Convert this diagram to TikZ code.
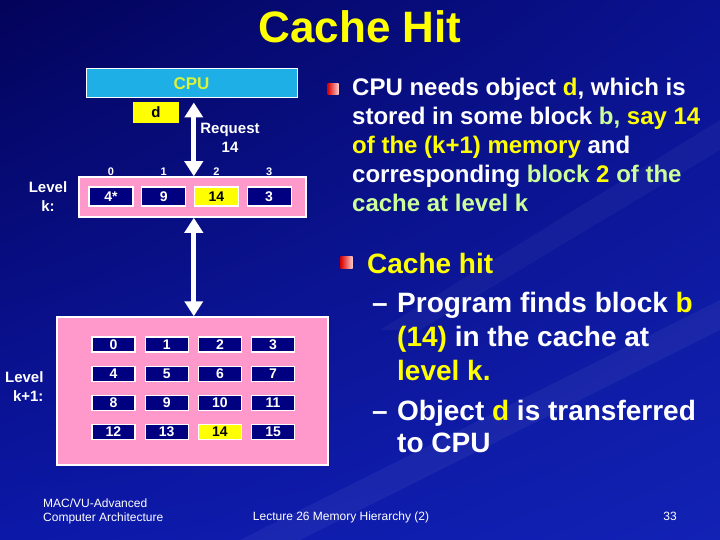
\documentclass[tikz,border=0pt]{standalone}
\usepackage{fontspec}
\setmainfont{Liberation Sans}
\usetikzlibrary{arrows.meta,positioning,calc,shadings}
\definecolor{chdark}{HTML}{03035A}
\definecolor{chbg}{HTML}{0A1290}
\definecolor{chmid}{HTML}{0C18A8}
\definecolor{chlow}{HTML}{1222B4}
\definecolor{chpink}{HTML}{FF99CC}
\definecolor{chnavy}{HTML}{000080}
\definecolor{chcyan}{HTML}{1DAFE6}
\definecolor{chlime}{HTML}{D9F23A}
\definecolor{chyel}{HTML}{FFFF00}
\definecolor{chgreen}{HTML}{CCFF99}
\newcommand\fsz[2]{\fontsize{#1}{#2}\selectfont}

\begin{document}
\begin{tikzpicture}[
  x=1pt, y=-1pt,
  font=\bfseries\fsz{14}{16}, text=white,
  blk/.style={draw=white, line width=1.2pt, fill=chnavy, minimum width=44pt,
              minimum height=19pt, inner sep=0pt},
  hit/.style={blk, fill=chyel, text=black},
  mem/.style={blk, minimum width=43pt, minimum height=15pt},
  memhit/.style={mem, fill=chyel, text=black},
  level/.style={draw=white, line width=1.5pt, fill=chpink, inner sep=0pt},
  idx/.style={font=\bfseries\fsz{11}{12}, inner sep=0pt},
  lbl/.style={align=center, font=\bfseries\fsz{15}{19}},
  xfer/.style={white, line width=5pt,
               {Triangle[length=15pt,width=18pt]}-{Triangle[length=15pt,width=18pt]}},
  sq/.style={minimum size=11pt, inner sep=0pt, left color=red!85!black,
             right color=red!20!white},
  txt/.style={align=left, inner sep=0pt, anchor=north west},
  foot/.style={font=\mdseries\fsz{12}{14}, inner sep=0pt},
]
\useasboundingbox (0,0) rectangle (720,540);

% ===== background =====
\shade[upper left=chdark, upper right=chbg, lower left=chmid, lower right=chlow]
  (0,0) rectangle (720,540);
\fill[white, opacity=0.05] (720,300) -- (720,330) -- (300,540) -- (240,540) -- cycle;
\fill[white, opacity=0.04] (720,120) -- (720,150) -- (420,330) -- (380,330) -- cycle;

% ===== title =====
\node[font=\bfseries\fsz{44}{50}, text=chyel] (title) at (360,27) {Cache Hit};

% ===== CPU =====
\node[draw=white, line width=1pt, fill=chcyan, minimum width=211pt, minimum height=29pt,
      text=chlime, font=\bfseries\fsz{17}{20}] (cpu) at (191.5,83.5) {CPU};
\node[hit, draw=none, minimum width=46pt, minimum height=21pt,
      font=\bfseries\fsz{15}{18}] (d) at (156,112.5) {d};
\node[lbl] (req) at (230,138) {Request\\14};

% ===== level k (cache) =====
\node[level, minimum width=227pt, minimum height=40pt] (cachek) at (192.5,197) {};
\node[blk] (c0) at (111,196.5) {4*};
\node[blk, right=7.5pt of c0] (c1) {9};
\node[hit, right=7.5pt of c1] (c2) {14};
\node[blk, right=7.5pt of c2] (c3) {3};
\node[idx, above=10.5pt of c0] (i0) {0};
\node[idx, above=10.5pt of c1] (i1) {1};
\node[idx, above=10.5pt of c2] (i2) {2};
\node[idx, above=10.5pt of c3] (i3) {3};
\node[lbl] (lk) at (48,197) {Level\\k:};

% ===== level k+1 (memory) =====
\node[level, minimum width=271pt, minimum height=148pt] (memk) at (192.5,391) {};
% row 1
\node[mem] (m0) at (113.5,344.5) {0};
\node[mem, right=9pt of m0] (m1) {1};
\node[mem, right=9pt of m1] (m2) {2};
\node[mem, right=9pt of m2] (m3) {3};
% row 2
\node[mem, below=13pt of m0] (m4) {4};
\node[mem, right=9pt of m4] (m5) {5};
\node[mem, right=9pt of m5] (m6) {6};
\node[mem, right=9pt of m6] (m7) {7};
% row 3
\node[mem, below=13pt of m4] (m8) {8};
\node[mem, right=9pt of m8] (m9) {9};
\node[mem, right=9pt of m9] (m10) {10};
\node[mem, right=9pt of m10] (m11) {11};
% row 4
\node[mem, below=13pt of m8] (m12) {12};
\node[mem, right=9pt of m12] (m13) {13};
\node[memhit, right=9pt of m13] (m14) {14};
\node[mem, right=9pt of m14] (m15) {15};
\node[lbl, align=right, anchor=east] (lk1) at (47,387) {Level\\k+1:};

% ===== transfers =====
\draw[xfer, shorten <=4pt] (cpu.south -| c2.west) -- (cachek.north -| c2.west);
\draw[xfer] (cachek.south -| c2.west) -- (memk.north -| c2.west);

% ===== bullet text =====
\node[sq] (b1) at (333,89) {};
\node[txt, font=\bfseries\fsz{24}{29}] (need) at (352,78)
  {CPU needs object \textcolor{chyel}{d}, which is\\
   stored in some block \textcolor{chgreen}{b,} \textcolor{chyel}{say 14}\\
   \textcolor{chyel}{of the (k+1) memory} and\\
   corresponding \textcolor{chgreen}{block} \textcolor{chyel}{2} \textcolor{chgreen}{of the}\\
   \textcolor{chgreen}{cache at level k}};
\node[sq, minimum size=12pt] (b2) at (346.5,262) {};
\node[txt, font=\bfseries\fsz{28}{34}, text=chyel] (hitt) at (367,253) {Cache hit};
\node[inner sep=0pt, anchor=base west, font=\bfseries\fsz{28}{34}] (dash1) at (372,312.5) {--};
\node[txt, font=\bfseries\fsz{28}{34}] (find) at (397,292)
  {Program finds block \textcolor{chyel}{b}\\
   \textcolor{chyel}{(14)} in the cache at\\
   \textcolor{chyel}{level k.}};
\node[inner sep=0pt, anchor=base west, font=\bfseries\fsz{28}{32}] (dash2) at (372,420.5) {--};
\node[txt, font=\bfseries\fsz{28}{32}] (obj) at (397,400)
  {Object \textcolor{chyel}{d} is transferred\\ to CPU};

% ===== footer =====
\node[foot, align=left, anchor=north west] (mac) at (43,499) {MAC/VU-Advanced\\Computer Architecture};
\node[foot] (lec) at (341,517) {Lecture 26 Memory Hierarchy (2)};
\node[foot] (pg) at (670,516) {33};

\end{tikzpicture}
\end{document}
